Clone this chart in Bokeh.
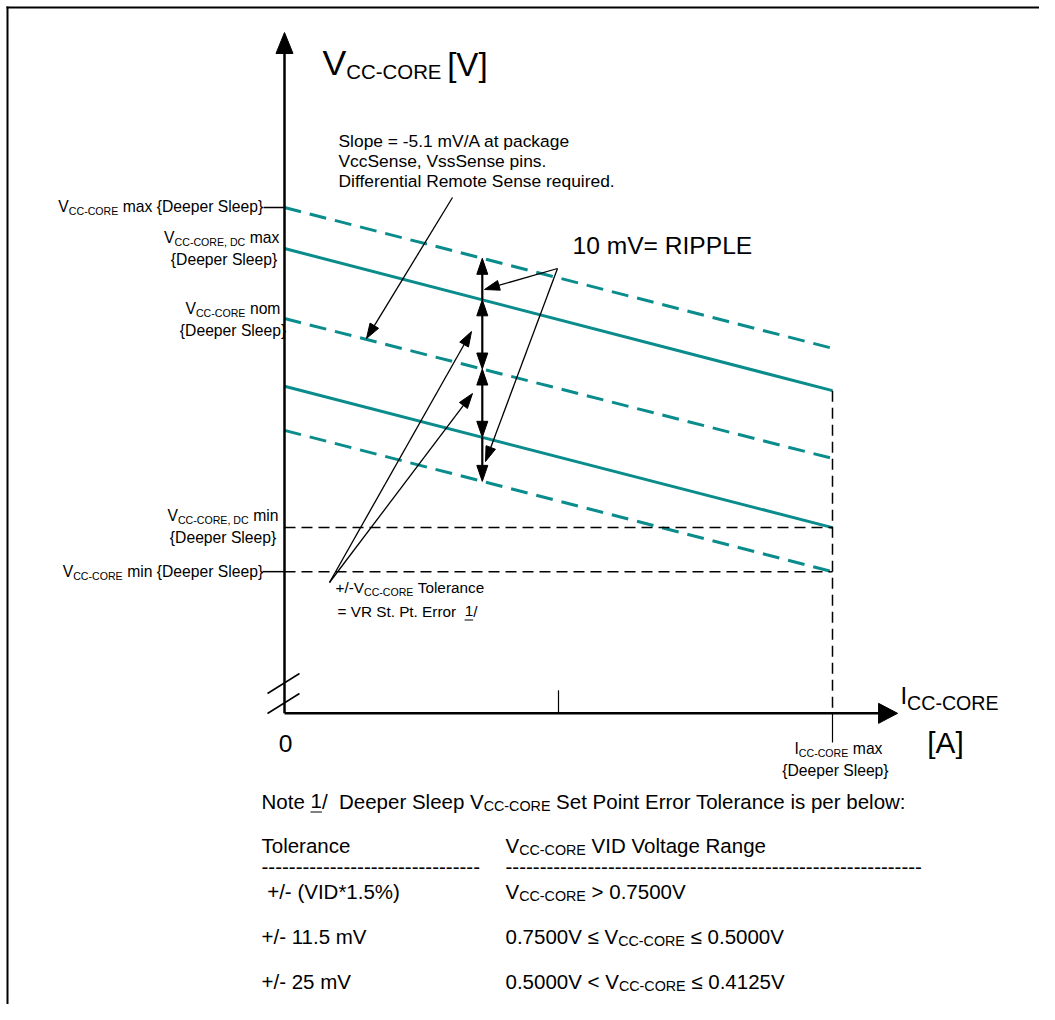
import numpy as np
from bokeh.plotting import figure
from bokeh.models import Range1d
from bokeh.core.properties import value
from bokeh.embed import file_html
from bokeh.resources import INLINE

# ---------------- data ----------------
# load line: I_CC-CORE in A (0 .. I max {Deeper Sleep}), voltages in mV relative to nominal VID at I = 0
i_pts = [0.0, 6.4]
v_max = [25.7, -6.9]        # V_CC-CORE max (dashed)
v_dc_max = [16.2, -16.7]    # V_CC-CORE,DC max (solid)
v_nom = [0.0, -32.4]        # V_CC-CORE nom (dashed)
v_dc_min = [-15.7, -48.4]   # V_CC-CORE,DC min (solid)
v_min = [-25.9, -58.6]      # V_CC-CORE min (dashed)
ripple_i = 2.31             # current where ripple / tolerance arrows sit
mid_tick_i = 3.2
x_axis_end = 7.16
y_axis_end = 66.2
y_axis_origin = -91.4

tol_labels = [" +/- (VID*1.5%)", "+/- 11.5 mV", "+/- 25 mV"]
range_pre = ["", "0.7500V \u2264 ", "0.5000V < "]
range_post = [" > 0.7500V", " \u2264 0.5000V", " \u2264 0.4125V"]

# ---------------- layout helpers ----------------
TEAL = "#0a8c8c"
FONT = "Liberation Sans"
NARROW_F = 0.85           # condensed labels drawn as smaller regular text of the same width
BASE_K = 0.40             # baseline correction (fraction of font size)
W, H = 1039, 1004
X0, XS = 284.0, 85.625    # canvas px of I=0, px per A
Y0, YS = 318.0, 4.32      # canvas px of V=0, px per mV


def dx(sx):
    return (sx - X0) / XS


def dy(sy):
    return (Y0 - sy) / YS


def sx_of(i):
    return X0 + i * XS


def sy_of(v):
    return Y0 - v * YS


p = figure(width=W, height=H, x_range=Range1d(dx(0), dx(W)),
           y_range=Range1d(dy(H), dy(0)), output_backend="svg",
           toolbar_location=None, x_axis_type=None, y_axis_type=None,
           min_border=0, outline_line_color=None)
p.background_fill_color = "white"
p.border_fill_color = "white"

# frame (left and top edges)
p.line([dx(7), dx(7)], [dy(6), dy(H)], line_color="black", line_width=2)
p.line([dx(6), dx(W)], [dy(7), dy(7)], line_color="black", line_width=2)

# Helvetica / Arial advance widths (per 1000 em)
AFM = {' ': 278, '!': 278, '"': 355, '#': 556, '$': 556, '%': 889, '&': 667, "'": 191,
       '(': 333, ')': 333, '*': 389, '+': 584, ',': 278, '-': 333, '.': 278, '/': 278,
       ':': 278, ';': 278, '<': 584, '=': 584, '>': 584, '?': 556, '@': 1015,
       'A': 667, 'B': 667, 'C': 722, 'D': 722, 'E': 667, 'F': 611, 'G': 778, 'H': 722,
       'I': 278, 'J': 500, 'K': 667, 'L': 556, 'M': 833, 'N': 722, 'O': 778, 'P': 667,
       'Q': 778, 'R': 722, 'S': 667, 'T': 611, 'U': 722, 'V': 667, 'W': 944, 'X': 667,
       'Y': 667, 'Z': 611, '[': 278, '\\': 278, ']': 278, '^': 469, '_': 556, '`': 333,
       'a': 556, 'b': 556, 'c': 500, 'd': 556, 'e': 556, 'f': 278, 'g': 556, 'h': 556,
       'i': 222, 'j': 222, 'k': 500, 'l': 222, 'm': 833, 'n': 556, 'o': 556, 'p': 556,
       'q': 556, 'r': 333, 's': 500, 't': 278, 'u': 556, 'v': 500, 'w': 722, 'x': 500,
       'y': 500, 'z': 500, '{': 334, '|': 260, '}': 334, '~': 584, '\u2264': 549}
for d in '0123456789':
    AFM[d] = 556


def tw(s, size):
    return sum(AFM.get(c, 556) for c in s) / 1000.0 * size


def rich(sx, sy, segs, align="left", narrow=True):
    """segs: list of (text, size_px, baseline_shift_px). Returns list of (x0, x1) per segment."""
    f = NARROW_F if narrow else 1.0
    segs = [(t, s * f, sh) for t, s, sh in segs]
    widths = [tw(t, s) for t, s, _ in segs]
    total = sum(widths)
    cur = sx if align == "left" else (sx - total if align == "right" else sx - total / 2)
    spans = []
    for (t, s, sh), w in zip(segs, widths):
        lead = len(t) - len(t.lstrip(" "))
        core = t.strip(" ").replace("  ", " \u00a0")
        x0 = cur + tw(" " * lead, s)
        p.text(x=[dx(x0)], y=[dy(sy + sh - BASE_K * s)], text=[core], text_font=value(FONT),
               text_font_size=value(f"{s:.1f}px"), text_color="black",
               text_align="left", text_baseline="alphabetic")
        spans.append((x0, x0 + tw(core, s)))
        cur += w
    return spans


heads_x, heads_y = [], []


def head(tip, frm, L, Wd):
    tx, ty = tip
    ux, uy = tx - frm[0], ty - frm[1]
    n = np.hypot(ux, uy)
    ux, uy = ux / n, uy / n
    bx, by = tx - ux * L, ty - uy * L
    px_, py_ = -uy, ux
    xs = [tx, bx + px_ * Wd / 2, bx - px_ * Wd / 2]
    ys = [ty, by + py_ * Wd / 2, by - py_ * Wd / 2]
    heads_x.append([dx(v) for v in xs])
    heads_y.append([dy(v) for v in ys])
    return (bx, by)


def arrow(a, b, lw, L, Wd, start=False, end=True):
    s, e = a, b
    if end:
        e = head(b, a, L, Wd)
        e = ((e[0] + b[0]) / 2, (e[1] + b[1]) / 2)
    if start:
        s = head(a, b, L, Wd)
        s = ((s[0] + a[0]) / 2, (s[1] + a[1]) / 2)
    p.line([dx(s[0]), dx(e[0])], [dy(s[1]), dy(e[1])], line_color="black", line_width=lw)


# ---------------- load lines ----------------
for arr, dash in [(v_max, "17 9"), (v_dc_max, "solid"), (v_nom, "17 9"),
                  (v_dc_min, "solid"), (v_min, "17 9")]:
    p.line(i_pts, arr, line_color=TEAL, line_width=3, line_dash=dash)

# black dashed guide lines
for arr in (v_dc_min, v_min):
    p.line([0, i_pts[1]], [arr[1], arr[1]], line_color="black", line_width=1.5, line_dash="11 6")
p.line([i_pts[1], i_pts[1]], [v_dc_max[1], y_axis_origin], line_color="black",
       line_width=1.5, line_dash="11 6")
p.line([i_pts[1], i_pts[1]], [y_axis_origin, dy(742)], line_color="black", line_width=1.2)

# axes
org = (sx_of(0), sy_of(y_axis_origin))
arrow(org, (sx_of(0), sy_of(y_axis_end)), 2.5, 21, 17)
arrow(org, (sx_of(x_axis_end), sy_of(y_axis_origin)), 2.5, 19, 20)
p.line([mid_tick_i, mid_tick_i], [y_axis_origin, y_axis_origin + 23 / YS], line_color="black", line_width=1.2)
# axis break marks
for off in (0, 20):
    p.line([dx(267), dx(299)], [dy(693 + off), dy(673 + off)], line_color="black", line_width=1.5)
# y ticks to labels
p.line([dx(263), 0], [v_max[0], v_max[0]], line_color="black", line_width=1.5)
p.line([dx(262), 0], [v_min[1], v_min[1]], line_color="black", line_width=1.5)

# ripple / tolerance arrows
rx = sx_of(ripple_i)
ry = [sy_of(np.interp(ripple_i, i_pts, a)) for a in (v_max, v_dc_max, v_nom, v_dc_min, v_min)]
arrow((rx, ry[1]), (rx, ry[0]), 2.2, 16, 11)
arrow((rx, ry[1]), (rx, ry[2]), 2.2, 16, 11, start=True)
arrow((rx, ry[2]), (rx, ry[3]), 2.2, 16, 11, start=True)
arrow((rx, ry[3]), (rx, ry[4]), 2.2, 16, 11)

# pointer arrows
arrow((452, 197), (366, 338), 1.3, 15, 10)
arrow((557, 268), (484, 289), 1.3, 15, 10)
arrow((557, 268), (485, 461), 1.3, 15, 10)
arrow((329, 582), (471, 331), 1.3, 15, 10)
arrow((329, 582), (472, 393), 1.3, 15, 10)

p.patches(heads_x, heads_y, fill_color="black", line_color="black", line_width=1)

# ---------------- texts ----------------
SUBN = "CC-CORE"
rich(322, 77, [("V", 42, 0), (SUBN + " ", 24, 3), ("[V]", 39, 0)])
rich(572, 255, [("10 mV= RIPPLE", 29, 0)])
for k, line in enumerate(["Slope = -5.1 mV/A at package", "VccSense, VssSense pins.",
                          "Differential Remote Sense required."]):
    rich(338, 147 + 20 * k, [(line, 20.5, 0)])

M, S, SH = 18.5, 12.5, 3
rich(263, 212, [("V", M, 0), (SUBN, S, SH), (" max {Deeper Sleep}", M, 0)], align="right")
rich(279, 243, [("V", M, 0), (SUBN + ", DC", S, SH), (" max", M, 0)], align="right")
rich(277, 265, [("{Deeper Sleep}", M, 0)], align="right")
rich(280, 314, [("V", M, 0), (SUBN, S, SH), (" nom", M, 0)], align="right")
rich(286, 336, [("{Deeper Sleep}", M, 0)], align="right")
rich(278, 521, [("V", M, 0), (SUBN + ", DC", S, SH), (" min", M, 0)], align="right")
rich(276, 543, [("{Deeper Sleep}", M, 0)], align="right")
rich(263, 577, [("V", M, 0), (SUBN, S, SH), (" min {Deeper Sleep}", M, 0)], align="right")

rich(335, 593, [("+/-V", 18, 0), (SUBN, S, SH), (" Tolerance", 18, 0)])
sp = rich(337, 617, [("= VR St. Pt. Error  ", 18, 0), ("1", 18, 0), ("/", 18, 0)])
p.line([dx(sp[1][0]), dx(sp[1][1])], [dy(619.5), dy(619.5)], line_color="black", line_width=1)

rich(285, 753, [("0", 29, 0)], align="center")
rich(900, 705, [("I", 28, 0), (SUBN, 23, 5)])
rich(945, 754, [("[A]", 35, 0)], align="center")
rich(794, 754, [("I", M, 0), (SUBN, S, SH), (" max", M, 0)])
rich(835, 776, [("{Deeper Sleep}", M, 0)], align="center")

# ---------------- note & table ----------------
T, TS, TSH = 20.5, 14.3, 2.5
sp = rich(261, 809, [("Note ", T, 0), ("1", T, 0), ("/  Deeper Sleep V", T, 0), (SUBN, TS, TSH),
                     (" Set Point Error Tolerance is per below:", T, 0)], narrow=False)
p.line([dx(sp[1][0]), dx(sp[1][1])], [dy(811.5), dy(811.5)], line_color="black", line_width=1)
rich(261, 853, [("Tolerance", T, 0)], narrow=False)
rich(505, 853, [("V", T, 0), (SUBN, TS, TSH), (" VID Voltage Range", T, 0)], narrow=False)
rich(261, 875, [("-" * 32, T, 0)], narrow=False)
rich(505, 875, [("-" * 61, T, 0)], narrow=False)
for k in range(3):
    yb = 899 + 45 * k
    rich(261, yb, [(tol_labels[k], T, 0)], narrow=False)
    rich(505, yb, [(range_pre[k] + "V", T, 0), (SUBN, TS, TSH), (range_post[k], T, 0)], narrow=False)

open("out.html", "w").write(file_html(p, INLINE))
